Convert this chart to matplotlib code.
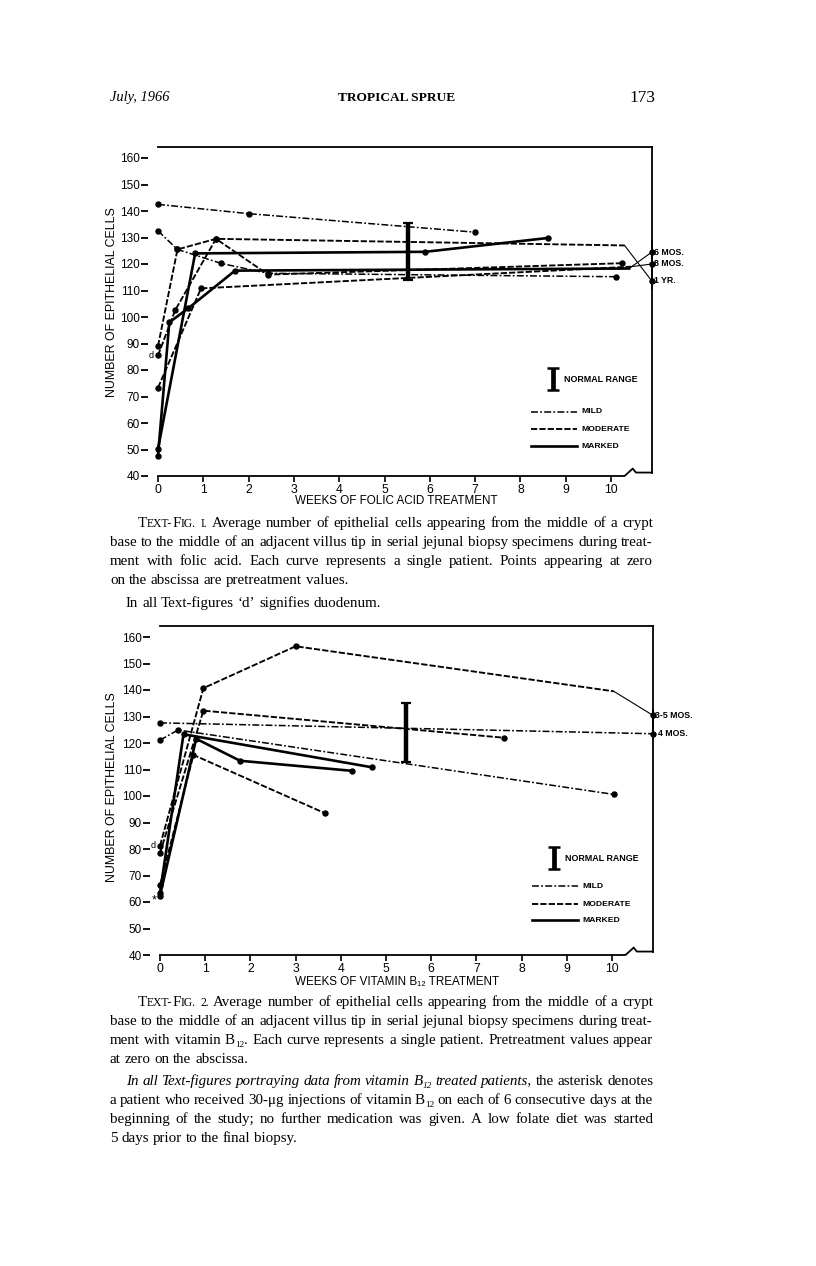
import matplotlib
matplotlib.use('Agg')
import matplotlib.pyplot as plt

plt.rcParams['font.family'] = ['Liberation Sans', 'DejaVu Sans']
plt.rcParams['lines.scale_dashes'] = False

W, H = 816, 1266

# ==========================================
# DATA  (weeks of treatment, epithelial cells)
# ==========================================
# Text-fig. 1 - folic acid
f1_mild_a_wk = [0, 2.0, 7.0]
f1_mild_a = [142.5, 139.0, 132.0]
f1_mild_b_wk = [0, 0.43, 1.4, 2.42, 10.1]
f1_mild_b = [132.5, 125.5, 120.2, 116.5, 115.2]
f1_mod_a_wk = [0, 0.43, 1.28, 10.3]
f1_mod_a = [89.0, 125.5, 129.5, 127.0]
f1_mod_b_wk = [0, 0.38, 1.28, 2.43, 10.24]
f1_mod_b = [85.5, 102.6, 129.5, 116.0, 120.3]
f1_mod_c_wk = [0, 0.95, 10.45]
f1_mod_c = [73.3, 110.8, 119.0]
f1_mark_a_wk = [0, 0.82, 5.9, 8.6]
f1_mark_a = [50.2, 124.0, 124.6, 129.8]
f1_mark_b_wk = [0, 0.25, 0.67, 1.7, 10.4]
f1_mark_b = [47.7, 98.0, 103.3, 117.5, 118.3]
# late follow-up values drawn past the axis break
f1_late_labels = ['6 MOS.', '8 MOS.', '1 YR.']
f1_late_vals = [124.5, 120.0, 113.6]
f1_normal = [114.0, 135.5]

# Text-fig. 2 - vitamin B12
f2_mild_a_wk = [0, 10.9]
f2_mild_a = [127.6, 123.5]
f2_mild_b_wk = [0, 0.4, 10.04]
f2_mild_b = [121.1, 124.9, 100.6]
f2_mod_a_wk = [0, 0.96, 3.0, 10.04]
f2_mod_a = [81.2, 140.7, 156.5, 139.5]
f2_mod_b_wk = [0, 0.96, 7.6]
f2_mod_b = [78.4, 132.2, 122.0]
f2_mod_c_wk = [0, 0.74, 3.65]
f2_mod_c = [66.4, 115.5, 93.5]
f2_mark_a_wk = [0, 0.52, 4.7]
f2_mark_a = [63.5, 123.3, 110.8]
f2_mark_b_wk = [0, 0.8, 1.77, 4.25]
f2_mark_b = [62.4, 121.6, 113.3, 109.5]
f2_late_labels = ['3-5 MOS.', '4 MOS.']
f2_late_vals = [130.5, 123.5]
f2_normal = [113.0, 135.0]

week_ticks = list(range(11))
cell_ticks = list(range(40, 161, 10))

STY = {
    'mild': dict(ls=(0, (5, 1.6, 1.3, 1.6)), lw=1.1),
    'moderate': dict(ls=(0, (4.5, 1.5)), lw=1.35),
    'marked': dict(ls='-', lw=1.9),
}
X_FRAME = 10.9
Y_TOP = 164.2


def panel(rect, series, tails, late_labels, late_vals, normal, bar_x, gap,
          legend_y, d_val, star_val):
    ax = fig.add_axes(rect)
    ax.set_xlim(0, X_FRAME)
    ax.set_ylim(40, Y_TOP)
    for s in ['left', 'right', 'bottom']:
        ax.spines[s].set_visible(False)
    ax.spines['top'].set_linewidth(1.3)
    ax.spines['left'].set_position(('outward', 7))
    ax.set_xticks(week_ticks)
    ax.set_yticks(cell_ticks)
    ax.tick_params(axis='y', length=5, width=1.3, pad=1, labelsize=8.5)
    ax.tick_params(axis='x', length=4, width=1.2, pad=2, labelsize=8.7)

    # bottom axis with break, right frame with gap for labels
    ax.plot([0, 10.3, 10.48, 10.55, X_FRAME], [40, 40, 42.8, 41.3, 41.3],
            color='k', lw=1.3, clip_on=False)
    ax.plot([X_FRAME, X_FRAME], [41.3, gap[0]], color='k', lw=1.3, clip_on=False)
    ax.plot([X_FRAME, X_FRAME], [gap[1], Y_TOP], color='k', lw=1.3, clip_on=False)

    for kind, wk, val, has_tail in series:
        ax.plot(wk, val, color='k', clip_on=False, **STY[kind])
        n = len(wk) - 1 if has_tail else len(wk)
        ax.plot(wk[:n], val[:n], 'o', color='k', ms=3.6, clip_on=False)

    for (x0, y0), lv in zip(tails, late_vals):
        ax.plot([x0, X_FRAME], [y0, lv], color='k', lw=0.8, clip_on=False)
    for lab, lv in zip(late_labels, late_vals):
        ax.plot([X_FRAME], [lv], 'o', color='k', ms=3.6, clip_on=False)
        ax.text(X_FRAME + 0.06, lv, lab, fontsize=6.3, fontweight='bold',
                ha='left', va='center')

    mid = (normal[0] + normal[1]) / 2
    ax.errorbar([bar_x], [mid], yerr=[(normal[1] - normal[0]) / 2], fmt='none',
                ecolor='k', elinewidth=3.2, capsize=3.5, capthick=1.6)

    # legend
    lx = 8.72
    ax.errorbar([lx], [legend_y[0]], yerr=[4.0], fmt='none', ecolor='k',
                elinewidth=3.4, capsize=4, capthick=1.8, clip_on=False)
    ax.text(lx + 0.25, legend_y[0], 'NORMAL RANGE', fontsize=6.4,
            fontweight='bold', ha='left', va='center')
    for kind, yy, lab in zip(['mild', 'moderate', 'marked'], legend_y[1:],
                             ['MILD', 'MODERATE', 'MARKED']):
        ax.plot([8.24, 9.24], [yy, yy], color='k', **STY[kind])
        ax.text(9.35, yy, lab, fontsize=6.1, fontweight='bold', ha='left', va='center')

    ax.text(-0.1, d_val, 'd', fontsize=6.5, ha='right', va='center')
    if star_val is not None:
        ax.text(-0.14, star_val, '*', fontsize=9, ha='center', va='center')
    return ax


fig = plt.figure(figsize=(W / 100, H / 100), dpi=100)
fig.patch.set_facecolor('white')

s1 = [('mild', f1_mild_a_wk, f1_mild_a, False),
      ('mild', f1_mild_b_wk, f1_mild_b, False),
      ('moderate', f1_mod_a_wk, f1_mod_a, True),
      ('moderate', f1_mod_b_wk, f1_mod_b, False),
      ('moderate', f1_mod_c_wk, f1_mod_c, True),
      ('marked', f1_mark_a_wk, f1_mark_a, False),
      ('marked', f1_mark_b_wk, f1_mark_b, True)]
t1 = [(f1_mark_b_wk[-1], f1_mark_b[-1]), (f1_mod_c_wk[-1], f1_mod_c[-1]),
      (f1_mod_a_wk[-1], f1_mod_a[-1])]
panel([158 / W, 1 - 476 / H, 10.9 * 45.3 / W, 124.2 * 2.65 / H], s1, t1,
      f1_late_labels, f1_late_vals, f1_normal, 5.52, (128.5, 111.0),
      [76.6, 64.2, 57.7, 51.3], f1_mod_b[0], None)

s2 = [('mild', f2_mild_a_wk, f2_mild_a, False),
      ('mild', f2_mild_b_wk, f2_mild_b, False),
      ('moderate', f2_mod_a_wk, f2_mod_a, True),
      ('moderate', f2_mod_b_wk, f2_mod_b, False),
      ('moderate', f2_mod_c_wk, f2_mod_c, False),
      ('marked', f2_mark_a_wk, f2_mark_a, False),
      ('marked', f2_mark_b_wk, f2_mark_b, False)]
t2 = [(f2_mod_a_wk[-1], f2_mod_a[-1])]
panel([160 / W, 1 - 955 / H, 10.9 * 45.2 / W, 124.2 * 2.65 / H], s2, t2,
      f2_late_labels[:1], f2_late_vals[:1], f2_normal, 5.45, (132.5, 121.9),
      [76.6, 66.0, 59.2, 53.2], f2_mod_a[0], 60.6)
fig.text((X_FRAME * 45.2 + 160 + 5) / W, 1 - 734 / H, f2_late_labels[1],
         fontsize=6.3, fontweight='bold', ha='left', va='center')

# axis titles
for yc in [302, 787]:
    fig.text(112 / W, 1 - yc / H, 'NUMBER OF EPITHELIAL CELLS', rotation=90,
             fontsize=8.9, ha='center', va='center')
fig.text(396 / W, 1 - 501 / H, 'WEEKS OF FOLIC ACID TREATMENT', fontsize=8.4,
         ha='center', va='center')
fig.text(397 / W, 1 - 982 / H, 'WEEKS OF VITAMIN B\u2081\u2082 TREATMENT', fontsize=8.4,
         ha='center', va='center')

# ==========================================
# PAGE TEXT
# ==========================================
r = fig.canvas.get_renderer()
SERIF = 'Liberation Serif'
X0, X1 = 110, 653


def split_words(segs):
    words = [[]]
    for txt, st in segs:
        parts = txt.split(' ')
        for i, p in enumerate(parts):
            if i > 0:
                words.append([])
            if p:
                words[-1].append((p, st))
    return [w for w in words if w]


def text_width(s, size):
    t = fig.text(0, 0, s, family=SERIF, fontsize=size)
    w = t.get_window_extent(r).width
    t.remove()
    return w


def draw_line(y, indent, justify, segs, size):
    placed, widths = [], []
    for w in split_words(segs):
        arts, wx = [], 0
        for txt, st in w:
            kw = dict(family=SERIF, fontsize=size, ha='left', va='baseline')
            dy = 0
            if 'i' in st:
                kw['style'] = 'italic'
            if 's' in st:
                kw['fontsize'] = size * 0.78
            if 'b' in st:
                kw['fontsize'] = size * 0.62
                dy = 0.2 * size * 100 / 72
            t = fig.text(0, 0, txt, **kw)
            arts.append((t, wx, dy))
            wx += t.get_window_extent(r).width
        placed.append(arts)
        widths.append(wx)
    xs = X0 + indent
    gap = 0.25 * size * 100 / 72
    if justify and len(placed) > 1:
        gap = (X1 - xs - sum(widths)) / (len(placed) - 1)
    x = xs
    for arts, ww in zip(placed, widths):
        for t, ox, dy in arts:
            t.set_position(((x + ox) / W, 1 - (y + dy) / H))
        x += ww + gap


# pick the caption size so the longest line fills the measure
probe = ('base to the middle of an adjacent villus tip in serial jejunal '
         'biopsy specimens during treat-')
cs = 9.5
for _ in range(4):
    cs *= (X1 - X0) * 0.99 / text_width(probe, cs)

cap1 = [
    (527, 28, True, [('T', ''), ('EXT-', 's'), ('F', ''), ('IG. I.', 's'),
                     (' Average number of epithelial cells appearing from the middle of a crypt', '')]),
    (546, 0, True, [('base to the middle of an adjacent villus tip in serial jejunal biopsy specimens during treat-', '')]),
    (565, 0, True, [('ment with folic acid. Each curve represents a single patient. Points appearing at zero', '')]),
    (584, 0, False, [('on the abscissa are pretreatment values.', '')]),
    (607, 16, False, [('In all Text-figures \u2018d\u2019 signifies duodenum.', '')]),
]
cap2 = [
    (1006, 28, True, [('T', ''), ('EXT-', 's'), ('F', ''), ('IG. 2.', 's'),
                      (' Average number of epithelial cells appearing from the middle of a crypt', '')]),
    (1025, 0, True, [('base to the middle of an adjacent villus tip in serial jejunal biopsy specimens during treat-', '')]),
    (1044, 0, True, [('ment with vitamin B', ''), ('12', 'b'), ('. Each curve represents a single patient. Pretreatment values appear', '')]),
    (1063, 0, False, [('at zero on the abscissa.', '')]),
    (1085, 16, True, [('In all Text-figures portraying data from vitamin B', 'i'), ('12', 'ib'),
                      (' treated patients,', 'i'), (' the asterisk denotes', '')]),
    (1104, 0, True, [('a patient who received 30-\u03bcg injections of vitamin B', ''), ('12', 'b'),
                     (' on each of 6 consecutive days at the', '')]),
    (1123, 0, True, [('beginning of the study; no further medication was given. A low folate diet was started', '')]),
    (1142, 0, False, [('5 days prior to the final biopsy.', '')]),
]
for y, ind, just, segs in cap1 + cap2:
    draw_line(y, ind, just, segs, cs)

fig.text(110 / W, 1 - 101 / H, 'July, 1966', family=SERIF, style='italic',
         fontsize=10.4, ha='left', va='baseline')
fig.text(397 / W, 1 - 101 / H, 'TROPICAL SPRUE', family=SERIF, fontsize=9.6,
         fontweight='bold', ha='center', va='baseline')
fig.text(655 / W, 1 - 102 / H, '173', family=SERIF, fontsize=12.5,
         ha='right', va='baseline')

fig.savefig('out.png', dpi=100, facecolor='white')
